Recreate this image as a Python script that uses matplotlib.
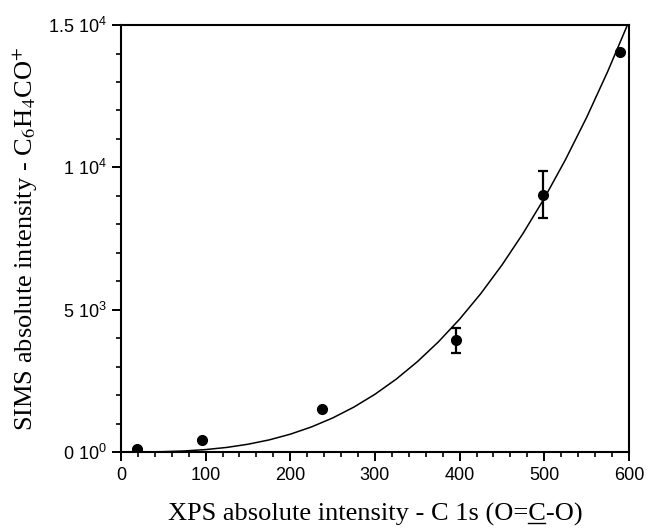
import numpy as np
import matplotlib
matplotlib.use("Agg")
from matplotlib import pyplot as plt
from matplotlib.lines import Line2D
from matplotlib.ticker import MultipleLocator, FixedLocator

# measured points (XPS vs SIMS intensity)
xps = [19, 96, 238, 396, 498, 590]
sims = [105, 420, 1500, 3920, 9040, 14060]
sims_err = [0, 0, 0, 440, 820, 0]

# fitted curve
fit_x = [0, 25, 50, 75, 100, 125, 150, 175, 200, 225, 250, 275, 300,
         325, 350, 375, 400, 425, 450, 475, 500, 525, 550, 575, 600]
fit_y = [0, 1.5, 11, 36, 84, 160, 272, 424, 625, 880, 1194, 1575, 2027,
         2556, 3169, 3870, 4666, 5563, 6567, 7681, 8910, 10267, 11750, 13370, 15124]

yticks = [0, 5000, 10000, 15000]
ytick_labels = ["0 10$^{0}$", "5 10$^{3}$", "1 10$^{4}$", "1.5 10$^{4}$"]

XLABEL_PRE = "XPS absolute intensity - C 1s (O="
XLABEL_UND = "C"
XLABEL_POST = "-O)"

plt.rcParams["font.family"] = "Liberation Sans"
plt.rcParams["mathtext.fontset"] = "custom"
plt.rcParams["mathtext.rm"] = "Liberation Sans"
plt.rcParams["mathtext.it"] = "Liberation Sans:italic"


def underline_part(fig, label, pre, part):
    # draw a line under one part of an axis label
    fig.canvas.draw()
    r = fig.canvas.get_renderer()
    prop = label.get_fontproperties()
    bb = label.get_window_extent(r)
    w_pre = r.get_text_width_height_descent(pre, prop, ismath=False)[0]
    w_part = r.get_text_width_height_descent(part, prop, ismath=False)[0]
    _, _, d = r.get_text_width_height_descent(label.get_text(), prop, ismath=False)
    x0 = bb.x0 + w_pre
    y = bb.y0 + d - 2.5
    fig.add_artist(Line2D([x0, x0 + w_part], [y, y], color="black", lw=1.0,
                          transform=None))


def main():
    fig = plt.figure(figsize=(6.47, 5.29), dpi=100)
    ax = fig.add_axes([0.187, 0.1456, 0.785, 0.807])

    ax.plot(fit_x, fit_y, color="black", lw=1.1)
    ax.errorbar(xps, sims, yerr=sims_err, fmt="o", color="black", ms=7,
                elinewidth=1.6, capsize=3.4, capthick=1.6)

    ax.set_xlim(0, 600)
    ax.set_ylim(0, 15000)
    ax.xaxis.set_major_locator(MultipleLocator(100))
    ax.xaxis.set_minor_locator(MultipleLocator(20))
    ax.yaxis.set_major_locator(FixedLocator(yticks))
    ax.yaxis.set_minor_locator(MultipleLocator(1000))
    ax.set_yticklabels(ytick_labels)

    for s in ax.spines.values():
        s.set_linewidth(1.5)
    ax.tick_params(which="major", direction="out", length=6.5, width=1.4,
                   labelsize=13, pad=4)
    ax.tick_params(which="minor", direction="out", length=3.5, width=1.2)

    xl = ax.set_xlabel(XLABEL_PRE + XLABEL_UND + XLABEL_POST,
                       family="Liberation Serif", fontsize=19)
    ax.set_ylabel("SIMS absolute intensity - C$_6$H$_4$CO$^{+}$",
                  family="Liberation Serif", fontsize=19,
                  math_fontfamily="stix")
    ax.xaxis.set_label_coords(0.5, -0.119)
    ax.yaxis.set_label_coords(-0.16, 0.5)

    underline_part(fig, xl, XLABEL_PRE, XLABEL_UND)

    fig.savefig("out.png", dpi=100)


if __name__ == "__main__":
    main()
